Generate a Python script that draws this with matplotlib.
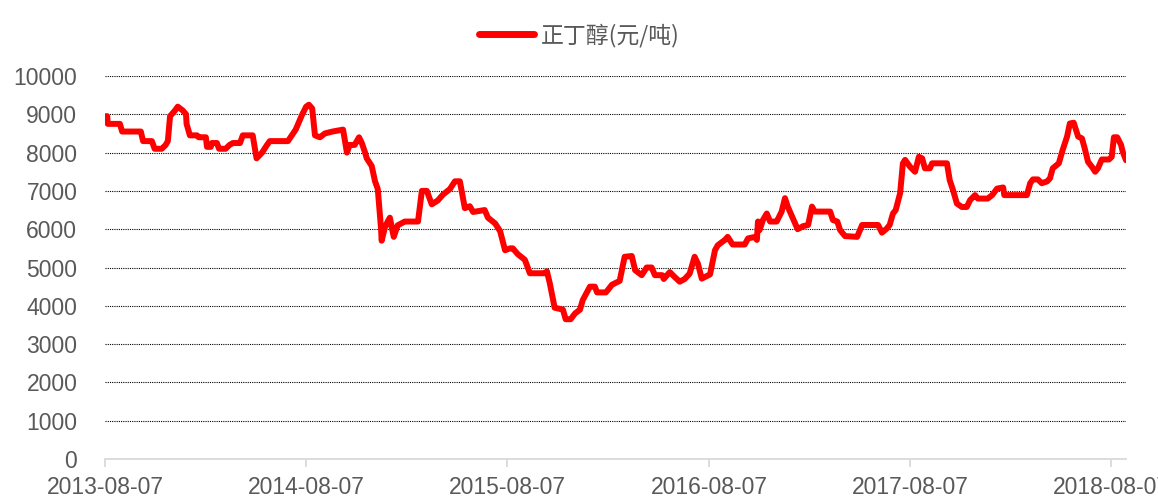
import pandas as pd
import matplotlib
matplotlib.use('Agg')
import matplotlib.pyplot as plt
import matplotlib.dates as mdates

plt.rcParams['font.family'] = ['Liberation Sans', 'Noto Sans CJK SC', 'DejaVu Sans']

# price series (元/吨)
dates = [
    '2013-08-07', '2013-08-11', '2013-08-12', '2013-09-03', '2013-09-07', '2013-10-11', '2013-10-15',
    '2013-10-31', '2013-11-05', '2013-11-18', '2013-11-25', '2013-11-29', '2013-12-03', '2013-12-12',
    '2013-12-17', '2013-12-26', '2014-01-01', '2014-01-02', '2014-01-08', '2014-01-21', '2014-01-24',
    '2014-02-06', '2014-02-08', '2014-02-15', '2014-02-17', '2014-02-26', '2014-03-02', '2014-03-14',
    '2014-03-21', '2014-03-27', '2014-04-09', '2014-04-14', '2014-05-02', '2014-05-09', '2014-05-19',
    '2014-05-28', '2014-06-02', '2014-07-05', '2014-07-12', '2014-07-19', '2014-07-25', '2014-07-31',
    '2014-08-07', '2014-08-12', '2014-08-18', '2014-08-23', '2014-09-01', '2014-09-10', '2014-09-24',
    '2014-10-13', '2014-10-20', '2014-10-25', '2014-11-03', '2014-11-11', '2014-11-16', '2014-11-22',
    '2014-11-25', '2014-12-04', '2014-12-10', '2014-12-15', '2014-12-21', '2014-12-22', '2014-12-28',
    '2015-01-02', '2015-01-06', '2015-01-10', '2015-01-13', '2015-01-20', '2015-02-02', '2015-02-26',
    '2015-03-05', '2015-03-14', '2015-03-23', '2015-04-03', '2015-04-12', '2015-04-25', '2015-05-04',
    '2015-05-13', '2015-05-22', '2015-05-31', '2015-06-06', '2015-06-27', '2015-07-03', '2015-07-16',
    '2015-07-25', '2015-08-03', '2015-08-12', '2015-08-17', '2015-08-26', '2015-09-08', '2015-09-17',
    '2015-10-14', '2015-10-18', '2015-10-23', '2015-11-01', '2015-11-16', '2015-11-21', '2015-11-30',
    '2015-12-08', '2015-12-17', '2015-12-22', '2016-01-04', '2016-01-13', '2016-01-17', '2016-02-02',
    '2016-02-06', '2016-02-13', '2016-02-27', '2016-03-07', '2016-03-20', '2016-03-26', '2016-04-07',
    '2016-04-16', '2016-04-25', '2016-05-01', '2016-05-14', '2016-05-17', '2016-05-28', '2016-06-06',
    '2016-06-15', '2016-06-24', '2016-07-03', '2016-07-12', '2016-07-18', '2016-07-25', '2016-08-09',
    '2016-08-18', '2016-08-23', '2016-09-05', '2016-09-10', '2016-09-19', '2016-10-11', '2016-10-17',
    '2016-10-30', '2016-11-02', '2016-11-04', '2016-11-07', '2016-11-13', '2016-11-20', '2016-11-26',
    '2016-12-08', '2016-12-17', '2016-12-23', '2016-12-28', '2017-01-05', '2017-01-15', '2017-01-25',
    '2017-02-03', '2017-02-10', '2017-02-15', '2017-03-15', '2017-03-20', '2017-03-28', '2017-04-02',
    '2017-04-11', '2017-05-03', '2017-05-12', '2017-06-10', '2017-06-17', '2017-06-26', '2017-07-01',
    '2017-07-07', '2017-07-12', '2017-07-20', '2017-07-25', '2017-07-29', '2017-08-07', '2017-08-16',
    '2017-08-23', '2017-08-29', '2017-09-03', '2017-09-12', '2017-09-16', '2017-10-13', '2017-10-18',
    '2017-10-24', '2017-10-31', '2017-11-09', '2017-11-18', '2017-11-24', '2017-12-03', '2017-12-08',
    '2017-12-26', '2018-01-03', '2018-01-12', '2018-01-23', '2018-01-25', '2018-03-07', '2018-03-13',
    '2018-03-18', '2018-03-27', '2018-04-03', '2018-04-13', '2018-04-18', '2018-04-23', '2018-05-04',
    '2018-05-11', '2018-05-19', '2018-05-24', '2018-05-31', '2018-06-08', '2018-06-15', '2018-06-20',
    '2018-06-26', '2018-07-03', '2018-07-09', '2018-07-14', '2018-07-21', '2018-08-03', '2018-08-08',
    '2018-08-12', '2018-08-18', '2018-08-25', '2018-08-28', '2018-09-03',
]
prices = [
    8950, 8950, 8750, 8750, 8550, 8550, 8300,
    8300, 8100, 8100, 8200, 8300, 8950, 9100,
    9200, 9100, 9000, 8750, 8450, 8450, 8400,
    8400, 8150, 8150, 8250, 8250, 8100, 8100,
    8200, 8250, 8250, 8450, 8450, 7850, 8000,
    8200, 8300, 8300, 8450, 8600, 8800, 9000,
    9200, 9250, 9150, 8450, 8400, 8500, 8550,
    8600, 8000, 8200, 8200, 8400, 8250, 8000,
    7850, 7650, 7250, 7050, 6000, 5700, 6050,
    6200, 6300, 6000, 5800, 6100, 6200, 6200,
    7000, 7000, 6650, 6750, 6900, 7050, 7250,
    7250, 6550, 6600, 6450, 6500, 6300, 6150,
    5950, 5450, 5500, 5500, 5350, 5200, 4850,
    4850, 4900, 4600, 3950, 3900, 3650, 3650,
    3800, 3900, 4150, 4500, 4500, 4350, 4350,
    4420, 4550, 4650, 5280, 5300, 4930, 4800,
    5000, 5000, 4800, 4800, 4700, 4880, 4750,
    4630, 4700, 4840, 5280, 5100, 4710, 4820,
    5450, 5580, 5720, 5800, 5600, 5600, 5760,
    5800, 5720, 6200, 5980, 6240, 6410, 6200,
    6200, 6460, 6810, 6590, 6330, 6000, 6080,
    6110, 6590, 6460, 6460, 6240, 6200, 5980,
    5820, 5800, 6110, 6110, 5910, 6020, 6110,
    6410, 6500, 6940, 7720, 7810, 7630, 7500,
    7890, 7850, 7590, 7590, 7720, 7720, 7280,
    7020, 6670, 6580, 6580, 6760, 6890, 6800,
    6800, 6890, 7060, 7090, 6890, 6890, 7200,
    7300, 7300, 7200, 7250, 7330, 7590, 7720,
    8070, 8420, 8760, 8780, 8420, 8370, 8110,
    7760, 7630, 7500, 7590, 7820, 7820, 7890,
    8400, 8400, 8200, 8020, 7800,
]
tick_dates = ['2013-08-07', '2014-08-07', '2015-08-07', '2016-08-07', '2017-08-07', '2018-08-07']
y_ticks = list(range(0, 10001, 1000))

x = pd.to_datetime(dates)
xt = pd.to_datetime(tick_dates)

fig = plt.figure(figsize=(11.58, 4.98), dpi=100)
ax = fig.add_axes([0.0907, 0.0783, 0.9724 - 0.0907, 0.8474 - 0.0783])

line, = ax.plot(x, prices, color='#ff0000', lw=4.3, solid_joinstyle='round',
                solid_capstyle='round', label='正丁醇(元/吨)')

ax.set_xlim(x[0], x[-1])
ax.set_ylim(0, 10000)
ax.set_yticks(y_ticks)
ax.set_xticks(xt)
ax.xaxis.set_major_formatter(mdates.DateFormatter('%Y-%m-%d'))

for yv in y_ticks[1:]:
    ax.axhline(yv, color='black', lw=0.8, ls=(0, (1, 1)), zorder=0)

for s in ['top', 'right', 'left']:
    ax.spines[s].set_visible(False)
ax.spines['bottom'].set_color('#d9d9d9')
ax.spines['bottom'].set_linewidth(1.3)

ax.tick_params(axis='y', length=0, pad=20, labelsize=16.5, labelcolor='#595959')
ax.tick_params(axis='x', length=6, width=1.3, color='#d9d9d9', pad=6,
               labelsize=16.5, labelcolor='#595959')

leg = fig.legend(handles=[line], loc='upper center', bbox_to_anchor=(0.5, 0.995),
                 frameon=False, fontsize=16.5, handlelength=2.4, handletextpad=0.3)
for t in leg.get_texts():
    t.set_color('#595959')
    t.set_family(['Noto Sans CJK SC', 'DejaVu Sans'])
leg.get_lines()[0].set_linewidth(5)

fig.savefig('out.png', dpi=100)
